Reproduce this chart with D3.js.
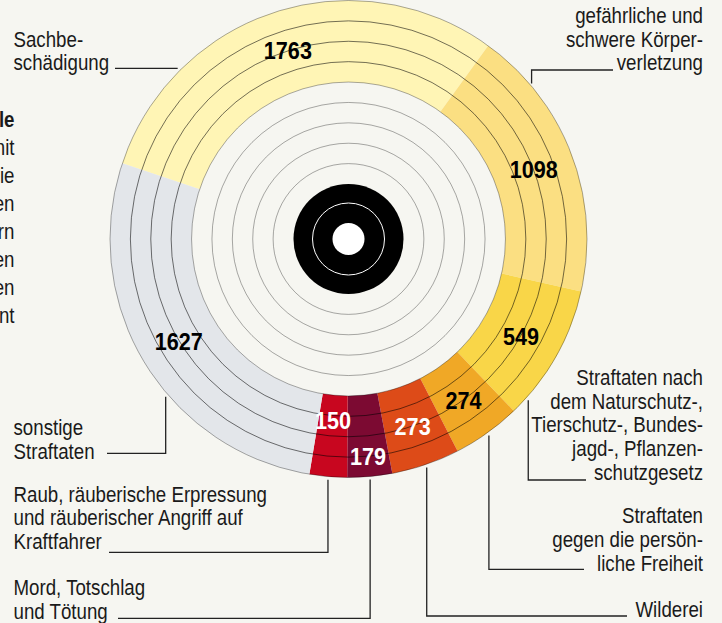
<!DOCTYPE html>
<html>
<head>
<meta charset="UTF-8">
<title>Straftaten</title>
<script src="https://cdn.jsdelivr.net/npm/d3@7"></script>
<style>
body { margin: 0; background: #f6f6f1; }
text { font-family: "Liberation Sans", Arial, sans-serif; font-size: 22px; fill: #1a1a1a; }
text.num { font-weight: bold; font-size: 24px; }
</style>
</head>
<body>
<script>
// data, clockwise from the top left
var categories = [
    ["Sachbe-", "schädigung"],
    ["gefährliche und", "schwere Körper-", "verletzung"],
    ["Straftaten nach", "dem Naturschutz-,", "Tierschutz-, Bundes-", "jagd-, Pflanzen-", "schutzgesetz"],
    ["Straftaten", "gegen die persön-", "liche Freiheit"],
    ["Wilderei"],
    ["Mord, Totschlag", "und Tötung"],
    ["Raub, räuberische Erpressung", "und räuberischer Angriff auf", "Kraftfahrer"],
    ["sonstige", "Straftaten"]
];
var values = [1763, 1098, 549, 274, 273, 179, 150, 1627];
var colors = ["#fff5b5", "#fbdf82", "#f9d648", "#f0a826", "#dd4b18", "#7c0a32", "#c8061f", "#e3e6ea"];
var numColors = ["#000", "#000", "#000", "#000", "#fff", "#fff", "#fff", "#000"];
// cut-off text at the left edge
var sideText = ["le", "nit", "ie", "en", "rn", "en", "en", "nt"];

var width = 722, height = 623;
var cx = 348.5, cy = 239;
var lineH = 23.7;
var narrow = 0.85;   // squeeze to look like a narrow face

var svg = d3.select("body").append("svg")
    .attr("width", width)
    .attr("height", height);

var ring = d3.scaleLinear().domain([0, 9]).range([55, 238.5]);
var R = ring(9);

var start = -71.5 * Math.PI / 180;
var pie = d3.pie().sort(null).value(function(d){ return d; })
    .startAngle(start).endAngle(start + 2 * Math.PI);
var slices = pie(values);

var g = svg.append("g").attr("transform", "translate(" + cx + "," + cy + ")");

var arc = d3.arc().innerRadius(ring(5)).outerRadius(ring(9));
g.selectAll("path.slice")
    .data(slices)
    .enter()
    .append("path")
    .attr("class", "slice")
    .attr("d", arc)
    .attr("fill", function(d, i){ return colors[i]; });

// target rings
var rings = d3.range(1, 10);
g.selectAll("circle.ring")
    .data(rings)
    .enter()
    .append("circle")
    .attr("class", "ring")
    .attr("r", function(d){ return ring(d); })
    .attr("fill", "none")
    .attr("stroke", function(d){
        if(d > 5 && d < 9){
            return "rgba(0,0,0,0.55)";
        }else{
            return "rgba(0,0,0,0.33)";
        }
    })
    .attr("stroke-width", 1);

g.append("circle").attr("r", ring(0)).attr("fill", "#000");
g.append("circle").attr("r", 36).attr("fill", "none").attr("stroke", "#fff").attr("stroke-width", 1);
g.append("circle").attr("r", 16).attr("fill", "#fff");

// numbers
g.selectAll("text.num")
    .data(slices)
    .enter()
    .append("text")
    .attr("class", "num")
    .attr("text-anchor", "middle")
    .attr("dy", "0.36em")
    .attr("transform", function(d, i){
        var r = 198;
        if(d.endAngle - d.startAngle < 0.22){
            r = (i % 2 == 1) ? 218 : 182;
        }
        var c = d3.arc().innerRadius(r).outerRadius(r).centroid(d);
        return "translate(" + c[0] + "," + c[1] + ") scale(0.9,1)";
    })
    .style("fill", function(d, i){ return numColors[i]; })
    .text(function(d){ return d.data; });

// callouts
var callouts = [
    {x: 13.5, y: 46.7,  anchor: "start", hx: 115, hy: 68.3,  side: "left"},
    {x: 703,  y: 23,    anchor: "end",   hx: 613, hy: 70,    angle: 49.3},
    {x: 703,  y: 385,   anchor: "end",   hx: 586, hy: 480,   angle: 131.9},
    {x: 703,  y: 523.3, anchor: "end",   hx: 584, hy: 569.3},
    {x: 703,  y: 616.7, anchor: "end",   hx: 627, hy: 616},
    {x: 13.5, y: 595,   anchor: "start", hx: 118, hy: 618.3},
    {x: 13.5, y: 501.7, anchor: "start", hx: 109, hy: 552.3},
    {x: 13.5, y: 435,   anchor: "start", hx: 107, hy: 453.3, angle: 229.2}
];

function leader(c, i){
    var gap = 3;
    if(c.side == "left"){
        var dy = c.hy - cy;
        var px = cx - Math.sqrt((R + gap) * (R + gap) - dy * dy);
        return "M" + c.hx + "," + c.hy + "H" + px;
    }
    var a;
    if(c.angle != null){
        a = c.angle * Math.PI / 180;
    }else{
        a = (slices[i].startAngle + slices[i].endAngle) / 2;
    }
    var px = cx + (R + gap) * Math.sin(a);
    var py = cy - (R + gap) * Math.cos(a);
    if(c.hy < cy) py = cy - R * Math.cos(a);
    return "M" + c.hx + "," + c.hy + "H" + px + "V" + py;
}

var co = svg.selectAll("g.callout")
    .data(callouts)
    .enter()
    .append("g")
    .attr("class", "callout");

co.append("path")
    .attr("d", leader)
    .attr("fill", "none")
    .attr("stroke", "#222")
    .attr("stroke-width", 1.3);

co.append("text")
    .attr("text-anchor", function(d){ return d.anchor; })
    .attr("transform", function(d){ return "translate(" + d.x + "," + d.y + ") scale(" + narrow + ",1)"; })
    .each(function(d, i){
        var t = d3.select(this);
        categories[i].forEach(function(line, j){
            t.append("tspan")
                .attr("x", 0)
                .attr("y", j * lineH)
                .text(line);
        });
    });

svg.selectAll("text.side")
    .data(sideText)
    .enter()
    .append("text")
    .attr("class", "side")
    .attr("text-anchor", "end")
    .attr("transform", function(d, i){ return "translate(14.5," + (127.3 + i * 27.9) + ") scale(" + narrow + ",1)"; })
    .style("font-weight", function(d, i){ return i == 0 ? "bold" : "normal"; })
    .text(function(d){ return d; });
</script>
</body>
</html>
